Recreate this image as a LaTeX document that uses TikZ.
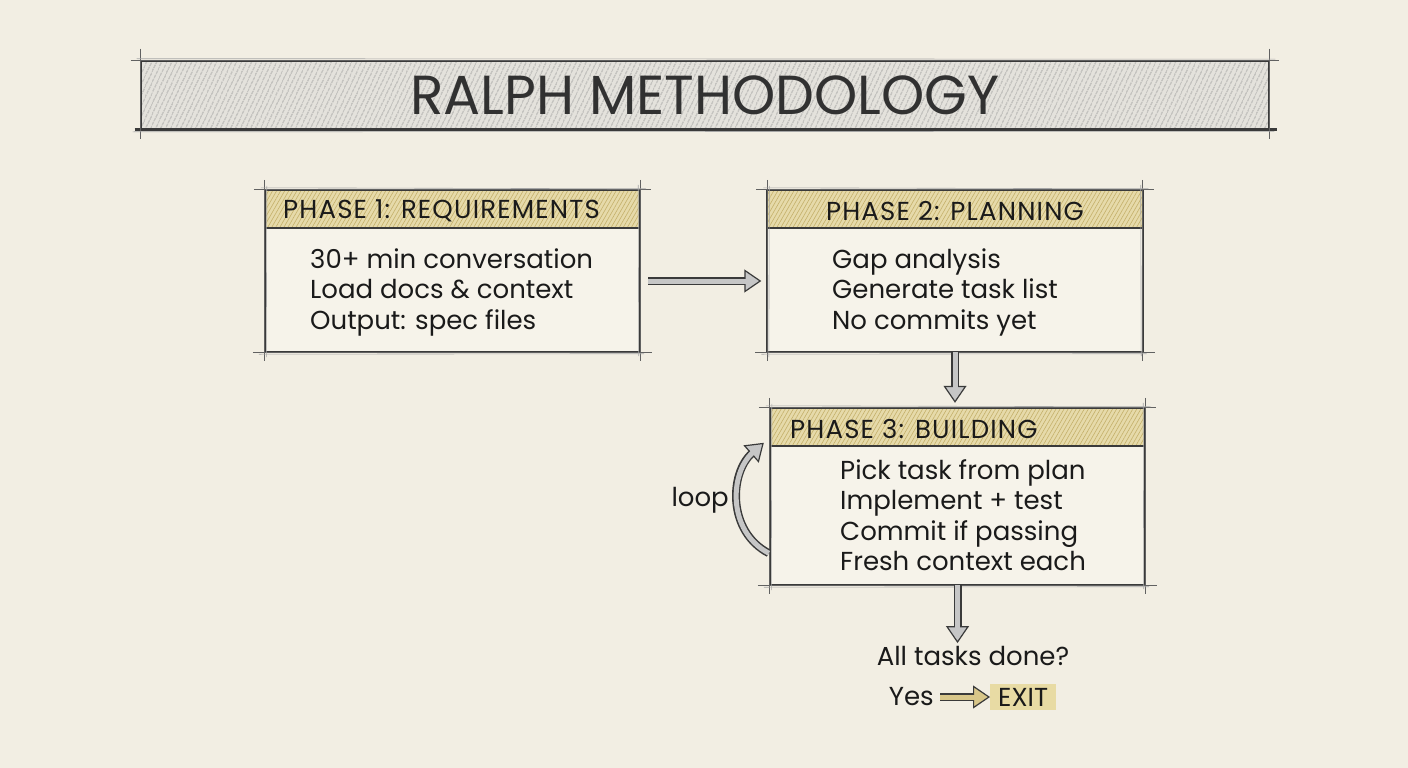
\documentclass[tikz,border=0pt]{standalone}
\usepackage{fontspec}
\setmainfont{Poppins}
\usetikzlibrary{arrows.meta,patterns.meta,calc}
\definecolor{bg}{HTML}{F2EEE3}
\definecolor{boxbg}{HTML}{F6F3EA}
\definecolor{headbg}{HTML}{E6DAAA}
\definecolor{headhatch}{HTML}{C4B06A}
\definecolor{titlebg}{HTML}{E4E2DC}
\definecolor{titlehatch}{HTML}{8E8E8E}
\definecolor{pencil}{HTML}{3A3A3A}
\definecolor{arrgray}{HTML}{C6C6C6}
\definecolor{arrgold}{HTML}{D8C689}
\definecolor{exitbg}{HTML}{E8DBA4}
\definecolor{ink}{HTML}{1A1A1A}
\newcommand\fatarr[2][arrgray]{%
  \draw[line width=1.2pt, draw=pencil, -{Triangle[length=17pt,width=23pt,fill=#1]}] #2;
  \draw[line width=8pt, draw=pencil, line cap=butt, shorten >=16pt] #2;
  \draw[line width=5pt, draw=#1, line cap=butt, shorten >=15pt] #2;
}
\newcommand\skbox[1]{%
  \draw[pencilline] (#1.north west) rectangle (#1.south east);
  \draw[pencilthin] ($(#1.north west)+(-11,0)$) -- ($(#1.north east)+(11,0)$);
  \draw[pencilthin] ($(#1.south west)+(-12,0)$) -- ($(#1.south east)+(12,0)$);
  \draw[pencilthin] ($(#1.north west)+(0,-10)$) -- ($(#1.south west)+(0,9)$);
  \draw[pencilthin] ($(#1.north east)+(0,-10)$) -- ($(#1.south east)+(0,9)$);
  \draw[pencilfaint] ($(#1.north west)+(-4,-2)$) -- ($(#1.north east)+(6,-1)$);
  \draw[pencilfaint] ($(#1.south west)+(-6,2)$) -- ($(#1.south east)+(4,1.5)$);
  \draw[pencilfaint] ($(#1.north west)+(2,-4)$) -- ($(#1.south west)+(1.5,5)$);
  \draw[pencilfaint] ($(#1.north east)+(-2,-5)$) -- ($(#1.south east)+(-1.5,4)$);
}
\tikzset{
  x=1pt, y=-1pt,
  pencilline/.style={draw=pencil, line width=2pt},
  pencilthin/.style={draw=pencil!80, line width=0.8pt},
  pencilfaint/.style={draw=pencil!45, line width=0.6pt},
  phasebox/.style={fill=boxbg, inner sep=0pt, minimum width=375pt},
  headfill/.style={preaction={fill=headbg}, pattern={Lines[angle=60,distance=3.5pt,line width=0.6pt]}, pattern color=headhatch},
  headtext/.style={font=\fontsize{26}{28}\selectfont\addfontfeature{LetterSpace=4.5}, text=ink, inner sep=0pt},
  bodytext/.style={font=\fontsize{26}{30.5}\selectfont, text=ink, align=left, inner sep=0pt},
}
\begin{document}
\begin{tikzpicture}
\fill[bg] (0,0) rectangle (1408,768);
\useasboundingbox (0,0) rectangle (1408,768);
% title
\node[minimum width=1128pt, minimum height=68pt, inner sep=0pt,
  preaction={fill=titlebg}, pattern={Lines[angle=65,distance=4pt,line width=0.6pt]}, pattern color=titlehatch,
  font=\fontsize{55}{60}\selectfont, text=ink!90] (title) at (705,95) {RALPH METHODOLOGY};
\draw[pencilline] (title.north west) rectangle (title.south east);
\draw[draw=pencil, line width=2.8pt] ($(title.south west)+(-6,0)$) -- ($(title.south east)+(8,0)$);
\draw[pencilthin] ($(title.north west)+(-10,0)$) -- ($(title.north east)+(10,0)$);
\draw[pencilthin] ($(title.north west)+(0,-12)$) -- ($(title.south west)+(0,10)$);
\draw[pencilthin] ($(title.north east)+(0,-12)$) -- ($(title.south east)+(0,10)$);
\draw[pencilfaint] ($(title.north west)+(-4,-2)$) -- ($(title.north east)+(6,-1.5)$);
\draw[pencilfaint] ($(title.south west)+(-8,2.5)$) -- ($(title.south east)+(5,2)$);
% boxes
\node[phasebox, minimum height=162pt] (p1) at (452.5,271) {};
\node[phasebox, minimum height=162pt] (p2) at (955,271) {};
\node[phasebox, minimum height=177pt] (p3) at (957.5,496.5) {};
\foreach \b in {p1,p2,p3}{
  \path[headfill] (\b.north west) rectangle ($(\b.north east)+(0,38)$);
  \draw[pencilline] ($(\b.north west)+(0,38)$) -- ($(\b.north east)+(0,38)$);
  \skbox{\b}
}
% headers
\node[headtext, anchor=west] (p1h) at (283,211) {PHASE 1: REQUIREMENTS};
\node[headtext] (p2h) at (955,211) {PHASE 2: PLANNING};
\node[headtext, anchor=west] (p3h) at (790,429) {PHASE 3: BUILDING};
% bodies
\node[bodytext, anchor=west] (p1b) at (310,292) {30+ min conversation\\Load docs \& context\\Output: spec files};
\node[bodytext, anchor=west] (p2b) at (832,292) {Gap analysis\\Generate task list\\No commits yet};
\node[bodytext, anchor=west] (p3b) at (840,515) {Pick task from plan\\Implement + test\\Commit if passing\\Fresh context each};
% lower texts
\node[bodytext, anchor=east] (looplbl) at (729,500) {loop};
\node[bodytext] (done) at (973,656) {All tasks done?};
\node[bodytext, anchor=east] (yes) at (934,697) {Yes};
\node[bodytext, anchor=west, fill=exitbg, inner xsep=8pt, inner ysep=4pt] (exit) at (990,697) {EXIT};
% arrows
\fatarr{($(p1.east)+(8,10)$) -- ($(p2.west)+(-6,10)$)}
\fatarr{(p2.south) -- ($(p2.south |- p3.north)+(0,-5)$)}
\fatarr{(p3.south) -- ($(p3.south |- done.north)+(0,-3)$)}
\coordinate (loopS) at ($(p3.south west)+(-1,-32)$);
\coordinate (loopE) at ($(p3.north west)+(-6,35)$);
\fatarr{(loopS) .. controls +(-42,-22) and +(-34,30) .. (loopE)}
\fatarr[arrgold]{($(yes.east)+(6,0)$) -- (exit.west)}
\end{tikzpicture}
\end{document}
